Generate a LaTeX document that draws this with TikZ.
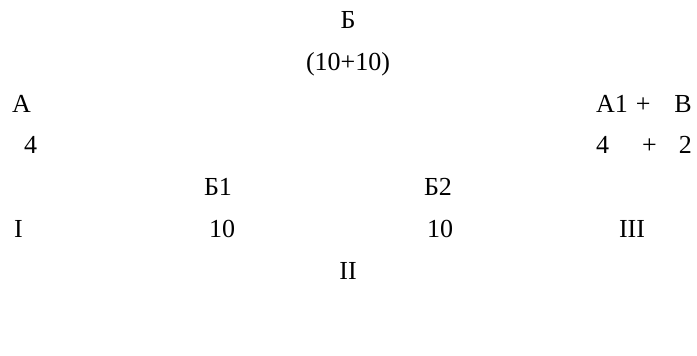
\documentclass[tikz,border=0pt]{standalone}
\usepackage{fontspec}
\setmainfont{Liberation Serif}
\begin{document}
\begin{tikzpicture}[x=1pt,y=1pt,
  lbl/.style={inner sep=0pt, anchor=base, font=\fontsize{26}{30}\selectfont}]
\useasboundingbox (0,0) rectangle (697,-356);
\node[lbl] (b) at (348,-28) {Б};
\node[lbl] (bsum) at (348,-70) {(10+10)};
\node[lbl, anchor=base west] (a) at (12,-112) {А};
\node[lbl, anchor=base east] (a1v) at (692,-112) {А1\hspace{8pt}+\hspace{24pt}В};
\node[lbl, anchor=base west] (a4) at (24,-153) {4};
\node[lbl, anchor=base east] (a42) at (692,-153) {4\hspace{33pt}+\hspace{22pt}2};
\node[lbl] (b1) at (218,-195) {Б1};
\node[lbl] (b2) at (438,-195) {Б2};
\node[lbl, anchor=base west] (i) at (14,-237) {I};
\node[lbl] (t1) at (222,-237) {10};
\node[lbl] (t2) at (440,-237) {10};
\node[lbl] (iii) at (632,-237) {III};
\node[lbl] (ii) at (348,-279) {II};
\end{tikzpicture}
\end{document}
